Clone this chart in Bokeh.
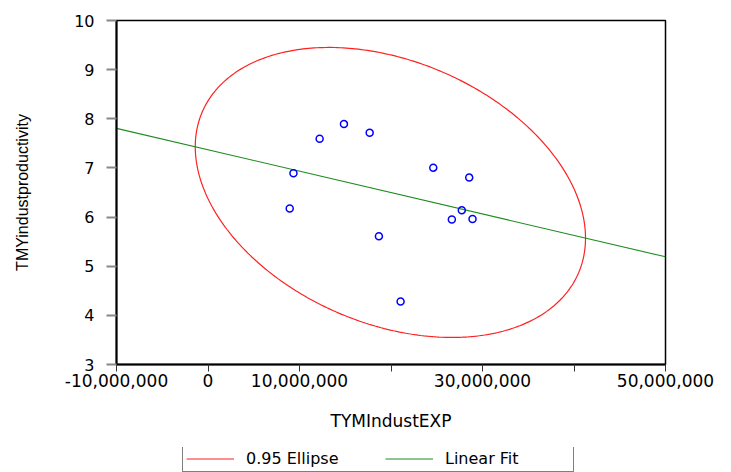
import numpy as np
from bokeh.plotting import figure
from bokeh.layouts import column
from bokeh.models import Range1d, FixedTicker, Legend, LegendItem
from bokeh.embed import file_html
from bokeh.resources import INLINE

# ---- data ----
tym_indust_exp = [12.20e6, 14.86e6, 17.67e6, 9.34e6, 8.93e6, 18.68e6,
                  21.05e6, 24.62e6, 28.55e6, 27.74e6, 26.65e6, 28.91e6]
tmy_indust_productivity = [7.595, 7.892, 7.717, 6.890, 6.172, 5.609,
                           4.281, 7.006, 6.803, 6.138, 5.949, 5.961]

x_ticks = [-10e6, 0, 10e6, 20e6, 30e6, 40e6, 50e6]
x_tick_labels = ["-10,000,000", "0", "10,000,000", "", "30,000,000", "", "50,000,000"]
y_ticks = [3, 4, 5, 6, 7, 8, 9, 10]
y_tick_labels = ["3", "4", "5", "6", "7", "8", "9", "10"]
x_limits = [-10e6, 50e6]
y_limits = [3, 10]
legend_labels = ["0.95 Ellipse", "Linear Fit"]
ellipse_color = "#FF2020"
fit_color = "#1E8C1E"
F_2_10_95 = 4.1028  # F(2, n-2) 95% quantile for n = 12

# ---- derived statistics ----
x = np.array(tym_indust_exp)
y = np.array(tmy_indust_productivity)
mx, my = x.mean(), y.mean()
cov = np.cov(x, y, ddof=1)
evals, evecs = np.linalg.eigh(cov)
c = np.sqrt(2 * F_2_10_95)
t = np.linspace(0, 2 * np.pi, 400)
circle = np.vstack([np.cos(t), np.sin(t)])
ell = evecs @ (np.sqrt(evals)[:, None] * circle) * c
ell_x = mx + ell[0]
ell_y = my + ell[1]

slope, intercept = np.polyfit(x, y, 1)
fit_x = np.array(x_limits)
fit_y = intercept + slope * fit_x

# ---- main figure ----
p = figure(frame_width=549, frame_height=344, output_backend="svg",
           toolbar_location=None,
           x_range=Range1d(*x_limits), y_range=Range1d(*y_limits),
           min_border_left=116, min_border_right=58, min_border_top=20,
           min_border_bottom=83)
p.xgrid.visible = False
p.ygrid.visible = False
p.outline_line_color = "black"
p.outline_line_width = 1.5
p.background_fill_color = "white"
p.border_fill_color = "white"

p.line(ell_x, ell_y, line_color=ellipse_color, line_width=1.2)
p.line(fit_x, fit_y, line_color=fit_color, line_width=1.1)
p.scatter(x, y, marker="circle", size=7, fill_color=None,
          line_color="#0000FF", line_width=1.5)

# x axis
p.xaxis.ticker = FixedTicker(ticks=x_ticks)
p.xaxis.major_label_overrides = {tk: lb for tk, lb in zip(x_ticks, x_tick_labels)}
p.xaxis.minor_tick_line_color = None
p.xaxis.major_tick_out = 7
p.xaxis.major_tick_in = 0
p.xaxis.major_tick_line_color = "#333333"
p.xaxis.axis_line_color = "black"
p.xaxis.axis_line_width = 2
p.xaxis.major_label_standoff = 2
p.xaxis.major_label_text_font = "DejaVu Sans"
p.xaxis.major_label_text_font_size = "17px"
p.xaxis.major_label_text_color = "black"
p.xaxis.axis_label = "TYMIndustEXP"
p.xaxis.axis_label_text_font = "DejaVu Sans"
p.xaxis.axis_label_text_font_size = "17px"
p.xaxis.axis_label_text_font_style = "normal"
p.xaxis.axis_label_text_color = "black"
p.xaxis.axis_label_standoff = 21

# y axis
p.yaxis.ticker = FixedTicker(ticks=y_ticks)
p.yaxis.major_label_overrides = {tk: lb for tk, lb in zip(y_ticks, y_tick_labels)}
p.yaxis.minor_tick_line_color = None
p.yaxis.major_tick_out = 10
p.yaxis.major_tick_in = 0
p.yaxis.major_tick_line_color = "#888888"
p.yaxis.major_tick_line_width = 2
p.yaxis.axis_line_color = "black"
p.yaxis.axis_line_width = 2
p.yaxis.major_label_standoff = 12
p.yaxis.major_label_text_font = "DejaVu Sans"
p.yaxis.major_label_text_font_size = "16px"
p.yaxis.major_label_text_color = "black"
p.yaxis.axis_label = "TMYindustproductivity"
p.yaxis.axis_label_text_font = "Liberation Sans"
p.yaxis.axis_label_text_font_size = "16px"
p.yaxis.axis_label_text_font_style = "normal"
p.yaxis.axis_label_text_color = "black"
p.yaxis.axis_label_standoff = 40

# ---- legend strip (separate small figure right below, same borders) ----
lf = figure(frame_width=549, frame_height=25, output_backend="svg",
            toolbar_location=None,
            x_range=Range1d(0, 1), y_range=Range1d(0, 1),
            min_border_left=116, min_border_right=58,
            min_border_top=0, min_border_bottom=0)
lf.axis.visible = False
lf.xgrid.visible = False
lf.ygrid.visible = False
lf.outline_line_color = None
lf.border_fill_color = "white"
lr_ell = lf.line([np.nan], [np.nan], line_color=ellipse_color, line_width=1.2)
lr_fit = lf.line([np.nan], [np.nan], line_color=fit_color, line_width=1.1)

legend = Legend(items=[LegendItem(label=legend_labels[0], renderers=[lr_ell]),
                       LegendItem(label=legend_labels[1], renderers=[lr_fit])],
                orientation="horizontal", location=(66, 0))
legend.border_line_color = "black"
legend.border_line_width = 1
legend.background_fill_color = "white"
legend.label_text_font = "DejaVu Sans"
legend.label_text_font_size = "16px"
legend.label_text_color = "black"
legend.glyph_width = 48
legend.glyph_height = 19
legend.label_height = 19
legend.label_width = 125
legend.label_standoff = 12
legend.spacing = 14
legend.padding = 3
legend.margin = 0
lf.add_layout(legend, "center")

layout = column(p, lf, spacing=0)
open("out.html", "w").write(file_html(layout, INLINE))
